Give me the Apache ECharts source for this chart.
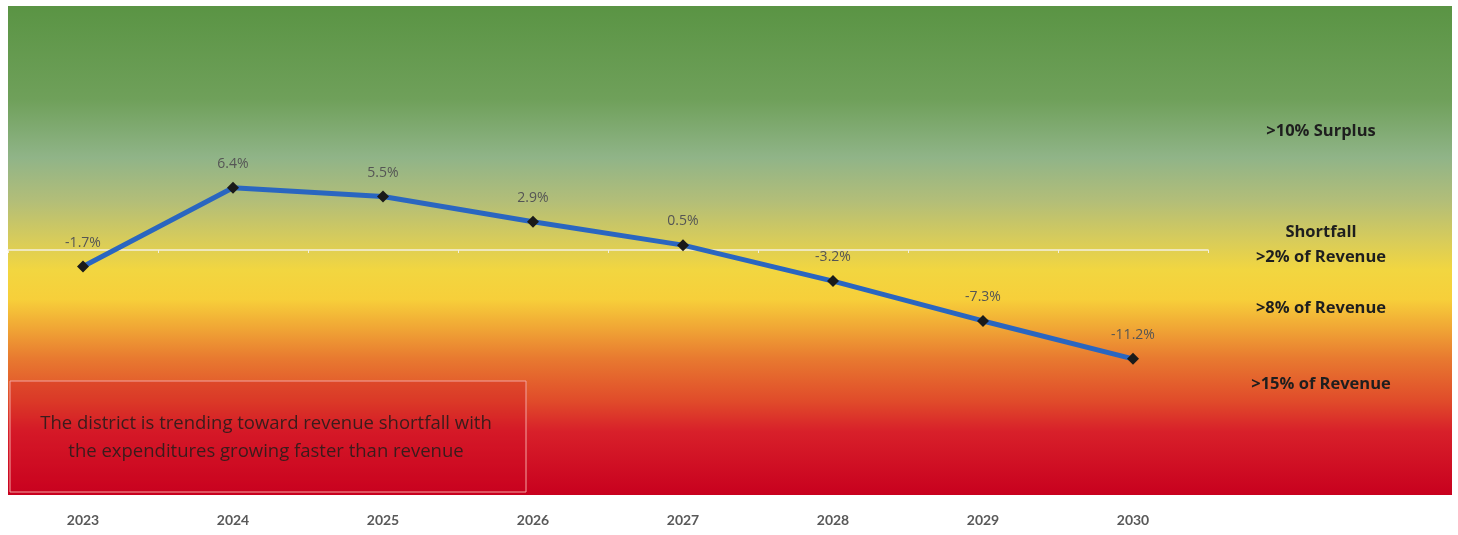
<!DOCTYPE html>
<html>
<head>
<meta charset="utf-8">
<script src="https://cdn.jsdelivr.net/npm/echarts@6/dist/echarts.min.js"></script>
<style>
  html, body { margin: 0; padding: 0; background: #ffffff; }
  #chart { width: 1458px; height: 535px; }
</style>
</head>
<body>
<div id="chart"></div>
<script>
// Projected revenue surplus / shortfall as a share of revenue
const years = ['2023', '2024', '2025', '2026', '2027', '2028', '2029', '2030'];
const balancePct = [-1.7, 6.4, 5.5, 2.9, 0.5, -3.2, -7.3, -11.2];

// Band captions down the right-hand side
const bandLabels = [
  { text: '>10% Surplus', y: 131 },
  { text: 'Shortfall', y: 232 },
  { text: '>2% of Revenue', y: 257 },
  { text: '>8% of Revenue', y: 308 },
  { text: '>15% of Revenue', y: 384 }
];
const noteLines = [
  'The district is trending toward revenue shortfall with',
  'the expenditures growing faster than revenue'
];

const chart = echarts.init(document.getElementById('chart'), null, { renderer: 'canvas' });

const bandGradient = new echarts.graphic.LinearGradient(0, 0, 0, 1, [
  { offset: 0.00, color: '#5a9444' },
  { offset: 0.19, color: '#6fa05a' },
  { offset: 0.31, color: '#90b488' },
  { offset: 0.40, color: '#b3be78' },
  { offset: 0.48, color: '#d8cc5a' },
  { offset: 0.54, color: '#f2d640' },
  { offset: 0.60, color: '#f7cf3a' },
  { offset: 0.66, color: '#f0a535' },
  { offset: 0.72, color: '#e87a30' },
  { offset: 0.81, color: '#e04a2a' },
  { offset: 0.87, color: '#d8202a' },
  { offset: 1.00, color: '#c8001e' }
]);

const graphics = [
  {
    type: 'rect', z: -10, silent: true,
    shape: { x: 8, y: 6, width: 1444, height: 489 },
    style: { fill: bandGradient }
  },
  {
    type: 'rect', z: 1, silent: true,
    shape: { x: 10, y: 381, width: 516, height: 111 },
    style: { fill: 'rgba(205,5,30,0.25)', stroke: '#f2a3a0', lineWidth: 1 }
  }
];
noteLines.forEach(function (line, i) {
  graphics.push({
    type: 'text', z: 2, silent: true,
    x: 266, y: 424 + i * 28,
    style: {
      text: line, fill: '#3a1c1c', font: '18.5px "Open Sans", sans-serif',
      align: 'center', verticalAlign: 'middle'
    }
  });
});
bandLabels.forEach(function (b) {
  graphics.push({
    type: 'text', z: 2, silent: true,
    x: 1321, y: b.y,
    style: {
      text: b.text, fill: '#1e1e1e', font: 'bold 16.5px "Open Sans", sans-serif',
      align: 'center', verticalAlign: 'middle'
    }
  });
});

chart.setOption({
  backgroundColor: '#ffffff',
  animation: false,
  graphic: graphics,
  grid: { left: 8, right: 250, top: 7, height: 486, containLabel: false },
  xAxis: [
    {
      type: 'category', data: years, boundaryGap: true, position: 'bottom',
      axisLine: { show: false, onZero: false },
      axisTick: { show: false },
      axisLabel: {
        color: '#595959', fontSize: 14, fontWeight: 'bold',
        fontFamily: 'Lato, sans-serif', margin: 20
      }
    },
    {
      type: 'category', data: years, boundaryGap: true, position: 'bottom',
      axisLine: { show: true, onZero: true, lineStyle: { color: '#f4f0e0', width: 1.5 } },
      axisTick: { show: true, length: 3, lineStyle: { color: '#f4f0e0' } },
      axisLabel: { show: false }
    }
  ],
  yAxis: {
    type: 'value', min: -25, max: 25, interval: 5,
    show: false, splitLine: { show: false }
  },
  series: [{
    type: 'line',
    xAxisIndex: 0,
    data: balancePct,
    symbol: 'diamond',
    symbolSize: 12,
    itemStyle: { color: '#1a1a1a' },
    lineStyle: { color: '#2a66c0', width: 5 },
    z: 5,
    label: {
      show: true, position: 'top', distance: 11,
      color: '#555555', fontSize: 14, fontFamily: '"Open Sans", sans-serif',
      formatter: function (p) { return p.value.toFixed(1) + '%'; }
    }
  }]
});
</script>
</body>
</html>
